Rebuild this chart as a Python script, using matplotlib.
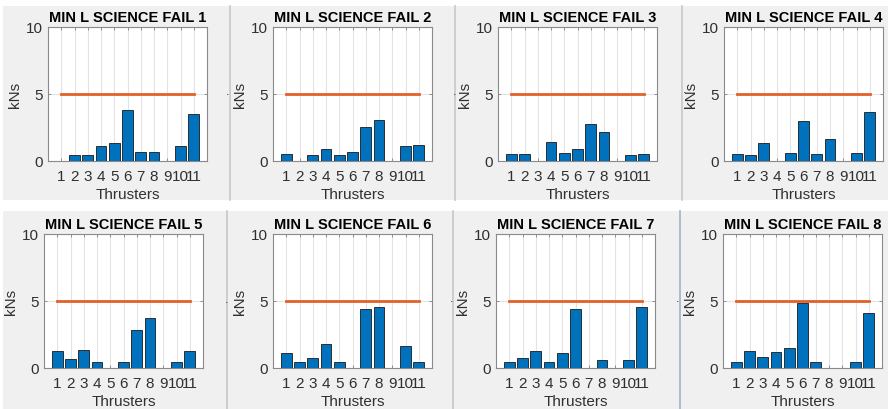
"""Thruster impulse per failure case, MIN L SCIENCE (2 x 4 panel grid)."""
import matplotlib
matplotlib.use("Agg")
import matplotlib.pyplot as plt
import matplotlib.patches as mpatches
from matplotlib.lines import Line2D
import numpy as np

# ---------------------------------------------------------------------------
# Data (kNs per thruster)
# ---------------------------------------------------------------------------
THRUSTERS = list(range(1, 12))
LIMIT_KNS = 5.0

FAIL_1 = [0.0, 0.45, 0.45, 1.1, 1.37, 3.83, 0.7, 0.7, 0.0, 1.1, 3.53]
FAIL_2 = [0.5, 0.0, 0.47, 0.87, 0.47, 0.7, 2.56, 3.06, 0.0, 1.14, 1.22]
FAIL_3 = [0.5, 0.55, 0.0, 1.39, 0.62, 0.9, 2.74, 2.16, 0.0, 0.45, 0.55]
FAIL_4 = [0.55, 0.47, 1.34, 0.0, 0.62, 2.96, 0.55, 1.67, 0.0, 0.62, 3.66]
FAIL_5 = [1.27, 0.67, 1.37, 0.47, 0.0, 0.45, 2.84, 3.71, 0.0, 0.42, 1.27]
FAIL_6 = [1.1, 0.42, 0.75, 1.77, 0.42, 0.0, 4.43, 4.58, 0.0, 1.64, 0.42]
FAIL_7 = [0.42, 0.77, 1.27, 0.42, 1.1, 4.43, 0.0, 0.6, 0.0, 0.6, 4.58]
FAIL_8 = [0.42, 1.27, 0.85, 1.22, 1.47, 4.85, 0.42, 0.0, 0.0, 0.42, 4.1]

FAILS = [FAIL_1, FAIL_2, FAIL_3, FAIL_4, FAIL_5, FAIL_6, FAIL_7, FAIL_8]
TITLES = [f"MIN L SCIENCE FAIL {i}" for i in range(1, 9)]

# ---------------------------------------------------------------------------
# Layout (pixels in an 888 x 410 canvas)
# ---------------------------------------------------------------------------
W, H = 888, 410
AX_W, AX_H = 159, 134
AX_LEFT = [48, 273, 498, 724, 44, 273, 496, 723]
AX_TOP = [28] * 4 + [235] * 4

MATLAB_BLUE = "#0072BD"
MATLAB_ORANGE = "#E0622A"
TXT = "#303030"

plt.rcParams["font.family"] = ["Liberation Sans", "DejaVu Sans"]


def px_rect(left, top, w, h):
    return [left / W, 1 - (top + h) / H, w / W, h / H]


fig = plt.figure(figsize=(W / 100, H / 100), dpi=100)
fig.patch.set_facecolor("white")

# panel backgrounds and separators (kept beneath the axes)
for y0, y1 in [(7, 201), (212, 410)]:
    fig.patches.append(mpatches.Rectangle((3 / W, 1 - y1 / H), (W - 3) / W,
                                          (y1 - y0) / H, transform=fig.transFigure,
                                          facecolor="#f0f0f0", edgecolor="none", zorder=-10))
for xs, (y0, y1), cols in [
    ([230, 455, 682], (7, 201), ["#c8c8c8"] * 3),
    ([227, 453, 680], (212, 410), ["#c8c8c8", "#c8c8c8", "#9fb2c9"]),
]:
    for x, c in zip(xs, cols):
        fig.lines.append(Line2D([x / W, x / W], [1 - y0 / H, 1 - y1 / H],
                                transform=fig.transFigure, color=c, lw=1.2, zorder=-9))

# stray dots next to the y labels
for x, y in [(228, 98), (455, 98), (685, 96), (227, 306), (452, 305), (678, 305)]:
    fig.text(x / W, 1 - y / H, ".", fontsize=9, color="#333333", ha="center", va="bottom")

x = np.array(THRUSTERS)
for i, (vals, title) in enumerate(zip(FAILS, TITLES)):
    ax = fig.add_axes(px_rect(AX_LEFT[i], AX_TOP[i], AX_W, AX_H))
    ax.set_facecolor("white")
    ax.bar(x, vals, width=0.8, color=MATLAB_BLUE, edgecolor="#1a1a1a", linewidth=0.6, zorder=3)
    ax.plot([x[0], x[-1]], [LIMIT_KNS, LIMIT_KNS], color=MATLAB_ORANGE, lw=2, zorder=4)

    ax.set_xlim(0, 12)
    ax.set_ylim(0, 10)
    ax.set_xticks(x)
    ax.set_xticklabels([str(t) for t in THRUSTERS])
    ax.set_yticks([0, 5, 10])
    ax.grid(True, color="#e3e3e3", lw=0.8, zorder=0)
    ax.tick_params(direction="in", length=2.5, width=0.6, top=True, right=True,
                   labelsize=11, colors="#808080", labelcolor=TXT)
    ax.tick_params(axis="x", pad=6)
    ax.tick_params(axis="y", pad=4)
    for s in ax.spines.values():
        s.set_color("#8a8a8a")
        s.set_linewidth(0.8)

    ax.set_title(title, fontsize=10.5, fontweight="bold", color="black", pad=4)
    ax.set_xlabel("Thrusters", fontsize=11, color=TXT, labelpad=3)
    ax.set_ylabel("kNs", fontsize=11, color=TXT, labelpad=2.5)

fig.savefig("out.png", dpi=100)
